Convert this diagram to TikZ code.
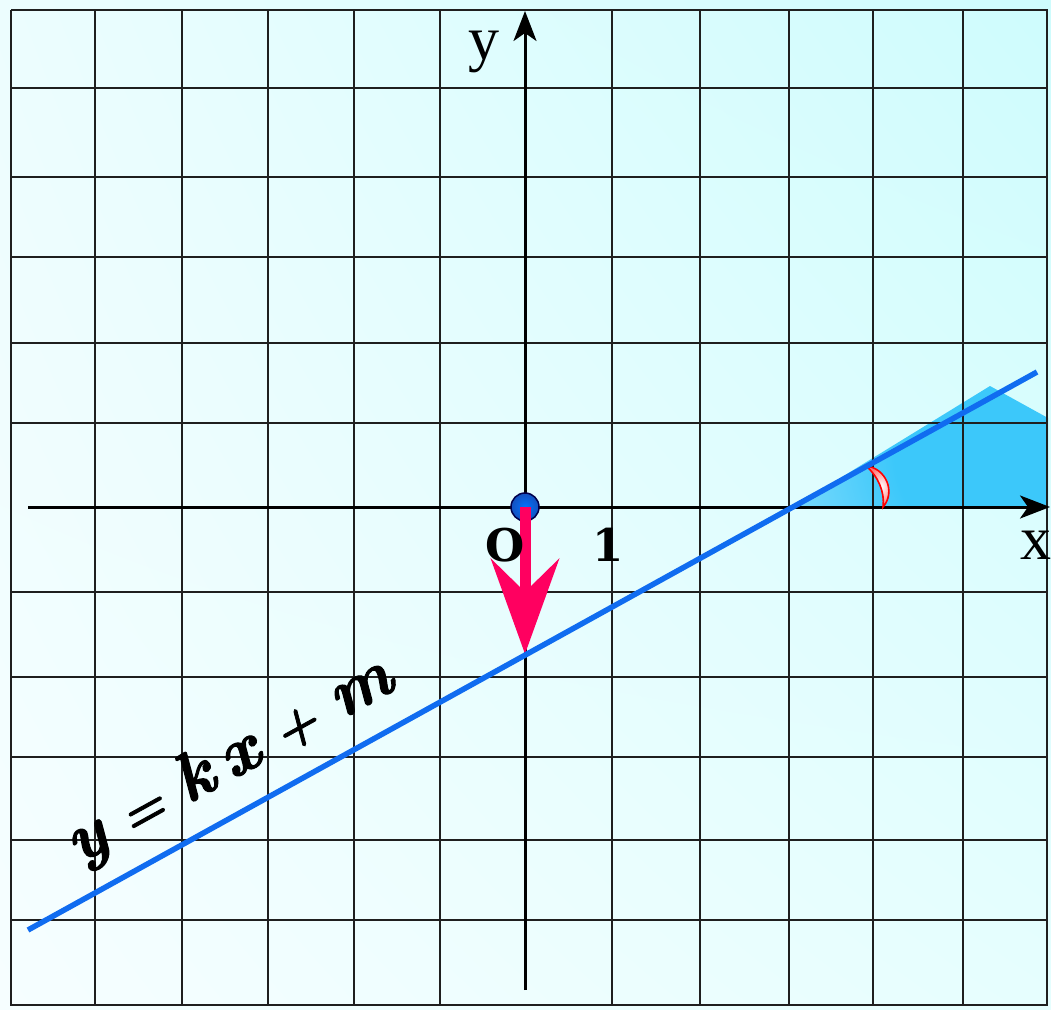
\documentclass[tikz,border=0pt]{standalone}
\usepackage{fontspec}
\newfontfamily\timesf{Liberation Serif}
\newfontfamily\heavyserif{DejaVu Serif}
\newfontfamily\eqfont[FakeBold=1.6]{lmroman10-bolditalic.otf}
\usetikzlibrary{arrows.meta,shadings}
\definecolor{bgA}{RGB}{246,254,255}
\definecolor{bgB}{RGB}{236,253,254}
\definecolor{bgC}{RGB}{206,252,253}
\definecolor{bgD}{RGB}{230,254,254}
\definecolor{lineblue}{RGB}{16,108,240}
\definecolor{pinkc}{RGB}{255,0,96}
\definecolor{shadec}{RGB}{60,200,250}
\definecolor{shadeout}{RGB}{240,251,255}
\definecolor{dotblue}{RGB}{20,80,190}
\pgfdeclareradialshading{wedgeglow}{\pgfpoint{0bp}{0bp}}{color(0bp)=(shadec); color(12bp)=(shadec); color(50bp)=(shadeout)}
\newcommand\smallop[1]{{\fontsize{52}{52}\selectfont #1}}
\begin{document}
\begin{tikzpicture}[x=1pt,y=-1pt,
  gridline/.style={line width=2.3pt,black!88},
  axisline/.style={line width=3pt,black,-{Stealth[length=30pt,width=23pt,inset=8pt]}},
  graphline/.style={line width=5.5pt,lineblue},
  pinkarrow/.style={line width=11pt,pinkc,-{Stealth[length=95pt,width=68pt,inset=33pt]}},
  axlabel/.style={inner sep=0pt,font=\timesf\fontsize{62}{62}\selectfont},
  numlabel/.style={inner sep=0pt,font=\heavyserif\bfseries\fontsize{45}{45}\selectfont},
  eqlabel/.style={inner sep=0pt,rotate=28.9,font=\eqfont\fontsize{68}{68}\selectfont}]
\useasboundingbox (0,0) rectangle (1051,1009);
\shade[upper left=bgB,upper right=bgC,lower left=bgA,lower right=bgD] (0,0) rectangle (1051,1009);
% shaded angle region
\begin{scope}
  \clip (793,507) -- (990,386) -- (1048,418) -- (1048,507) -- cycle;
  \shade[shading=wedgeglow] (995,452) circle (210);
\end{scope}
% grid
\foreach \gx in {11,95,182,268,354,440,612,700,789,873,963,1047}
  \draw[gridline] (\gx,10) -- (\gx,1006);
\foreach \gy in {10,88,177,257,343,423,592,677,757,840,920,1005}
  \draw[gridline] (11,\gy) -- (1048,\gy);
% axes
\coordinate (xs) at (28,507);
\coordinate (xe) at (1050,507);
\coordinate (ys) at (525,990);
\coordinate (ye) at (525,11);
\draw[axisline] (xs) -- (xe);
\draw[axisline] (ys) -- (ye);
% angle mark
\shade[draw=red,line width=1.6pt,inner color=white,outer color=red!55]
  (866,466) .. controls (886,468) and (896,492) .. (883,507)
  .. controls (885,492) and (878,476) .. (866,466) -- cycle;
% origin dot
\node[circle,minimum size=28pt,inner sep=0pt,draw=black!70!blue,line width=1.5pt,
  inner color=blue!55!cyan,outer color=dotblue] (O) at (525,507) {};
% pink arrow
\coordinate (B) at (525,654);
\draw[pinkarrow] (O.center) -- (B);
% graph line
\coordinate (L1) at (28,930);
\coordinate (L2) at (1037,372);
\draw[graphline] (L1) -- (L2);
% labels
\node[axlabel] (ylab) at (484,52) {y};
\node[axlabel] (xlab) at (1036,545) {x};
\node[numlabel] (zero) at (505,545) {O};
\node[numlabel] (one) at (608,545) {1};
\node[eqlabel] (eqn) at (230,762) {y\hspace{.3em}\smallop{=}\hspace{.3em}k\hspace{.2em}x\hspace{.3em}\smallop{+}\hspace{.3em}m};
\end{tikzpicture}
\end{document}
